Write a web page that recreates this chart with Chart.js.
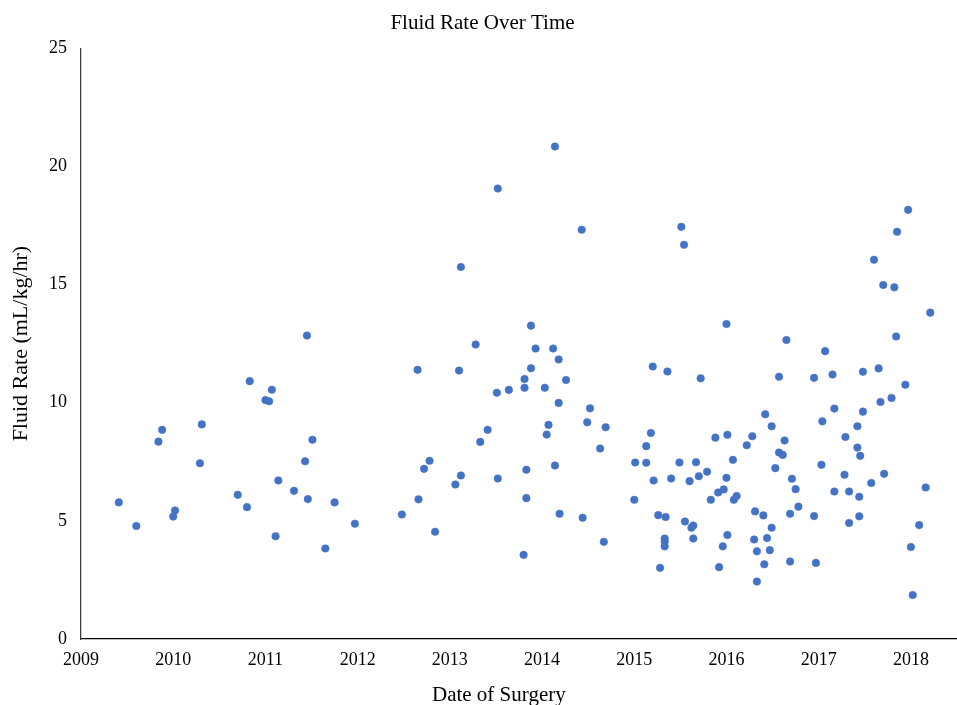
<!DOCTYPE html>
<html>
<head>
<meta charset="utf-8">
<script src="https://cdn.jsdelivr.net/npm/chart.js@4"></script>
<style>
	html, body {margin: 0; padding: 0; background: #fff;}
	#wrap {width: 957px; height: 705px;}
</style>
</head>
<body>
<div id="wrap"><canvas id="chart"></canvas></div>
<script>
// Date of surgery as decimal year
const dateOfSurgery = [
	2009.41, 2009.60, 2009.84, 2009.88, 2010.00, 2010.02, 2010.29, 2010.31, 2010.70, 2010.80,
	2010.83, 2011.00, 2011.04, 2011.07, 2011.11, 2011.14, 2011.31, 2011.43, 2011.45, 2011.46,
	2011.51, 2011.65, 2011.75, 2011.97,
	2012.48, 2012.65, 2012.66, 2012.72, 2012.78, 2012.84, 2013.06, 2013.10, 2013.12, 2013.12,
	2013.28, 2013.33, 2013.41, 2013.51, 2013.52, 2013.52, 2013.64, 2013.80, 2013.81, 2013.81,
	2013.83, 2013.83, 2013.88, 2013.88, 2013.93, 2014.03, 2014.05, 2014.07, 2014.12, 2014.14,
	2014.14, 2014.18, 2014.18, 2014.19, 2014.26, 2014.43, 2014.44, 2014.49, 2014.52, 2014.63,
	2014.67, 2014.69,
	2015.00, 2015.01, 2015.13, 2015.13, 2015.18, 2015.20, 2015.21, 2015.26, 2015.28, 2015.33,
	2015.33, 2015.33, 2015.34, 2015.36, 2015.40, 2015.49, 2015.51, 2015.54, 2015.55, 2015.60,
	2015.62, 2015.64, 2015.64, 2015.67, 2015.70, 2015.72, 2015.79, 2015.83, 2015.88, 2015.91,
	2015.92, 2015.96, 2015.97, 2016.00, 2016.00, 2016.01, 2016.01, 2016.07, 2016.08, 2016.11,
	2016.22, 2016.28, 2016.30, 2016.31, 2016.33, 2016.33, 2016.40, 2016.41, 2016.42, 2016.44,
	2016.47, 2016.49, 2016.49, 2016.53, 2016.57, 2016.57, 2016.61, 2016.63, 2016.65, 2016.69,
	2016.69, 2016.71, 2016.75, 2016.78,
	2016.95, 2016.95, 2016.97, 2017.03, 2017.04, 2017.07, 2017.15, 2017.17, 2017.17, 2017.28,
	2017.29, 2017.33, 2017.33, 2017.42, 2017.42, 2017.44, 2017.44, 2017.45, 2017.48, 2017.48,
	2017.57, 2017.60, 2017.65, 2017.67, 2017.70, 2017.71, 2017.79, 2017.82, 2017.84, 2017.85,
	2017.94, 2017.97, 2018.00, 2018.02, 2018.09, 2018.16, 2018.21
];

// Fluid rate, mL/kg/hr
const fluidRate = [
	5.78, 4.78, 8.35, 8.85, 5.18, 5.44, 7.44, 9.08, 6.10, 5.58,
	10.91, 10.11, 10.06, 10.55, 4.35, 6.71, 6.27, 7.52, 12.84, 5.92,
	8.43, 3.83, 5.78, 4.88,
	5.27, 11.39, 5.91, 7.20, 7.54, 4.54, 6.54, 11.36, 15.74, 6.92,
	12.46, 8.34, 8.85, 10.42, 19.06, 6.79, 10.54, 3.56, 11.00, 10.63,
	7.16, 5.96, 13.26, 11.46, 12.29, 10.63, 8.65, 9.06, 12.29, 20.84,
	7.34, 11.83, 9.99, 5.30, 10.96, 17.32, 5.13, 9.17, 9.76, 8.06,
	4.11, 8.96,
	5.89, 7.47, 8.16, 7.46, 8.72, 11.53, 6.71, 5.24, 3.01, 4.25,
	4.11, 3.92, 5.16, 11.32, 6.79, 7.47, 17.44, 16.68, 4.97, 6.68,
	4.71, 4.80, 4.25, 7.48, 6.89, 11.03, 7.08, 5.89, 8.52, 6.20,
	3.04, 3.92, 6.33, 13.33, 6.82, 8.64, 4.40, 7.58, 5.89, 6.05,
	8.20, 8.58, 4.21, 5.40, 3.71, 2.43, 5.23, 3.16, 9.51, 4.27,
	3.76, 9.00, 4.71, 7.23, 11.10, 7.89, 7.79, 8.40, 12.65, 5.30,
	3.28, 6.78, 6.34, 5.60,
	11.05, 5.20, 3.22, 7.37, 9.21, 12.18, 11.19, 9.75, 6.24, 6.95,
	8.55, 6.24, 4.91, 9.00, 8.10, 6.02, 5.19, 7.75, 11.31, 9.62,
	6.60, 16.05, 11.45, 10.03, 14.98, 6.99, 10.20, 14.88, 12.80, 17.23,
	10.76, 18.16, 3.89, 1.86, 4.82, 6.41, 13.81
];

const yearTicks = [2009, 2010, 2011, 2012, 2013, 2014, 2015, 2016, 2017, 2018];
const rateTicks = [0, 5, 10, 15, 20, 25];

const serif = 'Liberation Serif, Times New Roman, serif';
Chart.defaults.font.family = serif;
Chart.defaults.color = '#000';

const points = dateOfSurgery.map((d, i) => ({x: d, y: fluidRate[i]}));

// x axis title, Excel puts it a bit left of the plot centre
const xTitle = {
	id: 'xTitle',
	afterDraw(chart) {
		const {ctx, chartArea} = chart;
		ctx.save();
		ctx.font = '21px ' + serif;
		ctx.fillStyle = '#000';
		ctx.textAlign = 'center';
		ctx.textBaseline = 'middle';
		ctx.fillText('Date of Surgery',
			chartArea.left + (chartArea.right - chartArea.left) * 0.477,
			chart.height - 10);
		ctx.restore();
	}
};

const chart = new Chart(
	document.getElementById('chart'),
	{
		type: 'scatter',
		data: {
			datasets: [{
				label: 'Fluid Rate',
				data: points,
				backgroundColor: '#4472C4',
				borderColor: '#4472C4',
				borderWidth: 0.5,
				pointRadius: 3.8,
				pointHoverRadius: 3.8
			}]
		},
		options: {
			responsive: true,
			maintainAspectRatio: false,
			animation: false,
			layout: {
				autoPadding: false,
				padding: {left: 8, right: 0, top: 0, bottom: 21}
			},
			scales: {
				x: {
					type: 'linear',
					min: 2009,
					max: 2018.5,
					afterBuildTicks: (scale) => {
						scale.ticks = yearTicks.map((v) => ({value: v}));
					},
					afterFit: (scale) => {
						scale.height = 45;
						scale.paddingLeft = 0;
						scale.paddingRight = 0;
					},
					grid: {display: false, drawTicks: false},
					border: {display: true, color: '#000', width: 1.3},
					ticks: {
						padding: 10,
						font: {size: 18},
						callback: (v) => String(v)
					}
				},
				y: {
					min: 0,
					max: 25,
					afterBuildTicks: (scale) => {
						scale.ticks = rateTicks.map((v) => ({value: v}));
					},
					afterFit: (scale) => {scale.width = 73;},
					grid: {display: false, drawTicks: false},
					border: {display: true, color: '#404040', width: 1.3},
					ticks: {padding: 14, font: {size: 18}},
					title: {
						display: true,
						text: 'Fluid Rate (mL/kg/hr)',
						font: {size: 22},
						padding: {top: 0, bottom: 0}
					}
				}
			},
			plugins: {
				legend: {display: false},
				tooltip: {enabled: false},
				title: {
					display: true,
					text: 'Fluid Rate Over Time',
					font: {size: 21, weight: 'normal'},
					padding: {top: 11, bottom: 12}
				}
			}
		},
		plugins: [xTitle]
	}
);
</script>
</body>
</html>
